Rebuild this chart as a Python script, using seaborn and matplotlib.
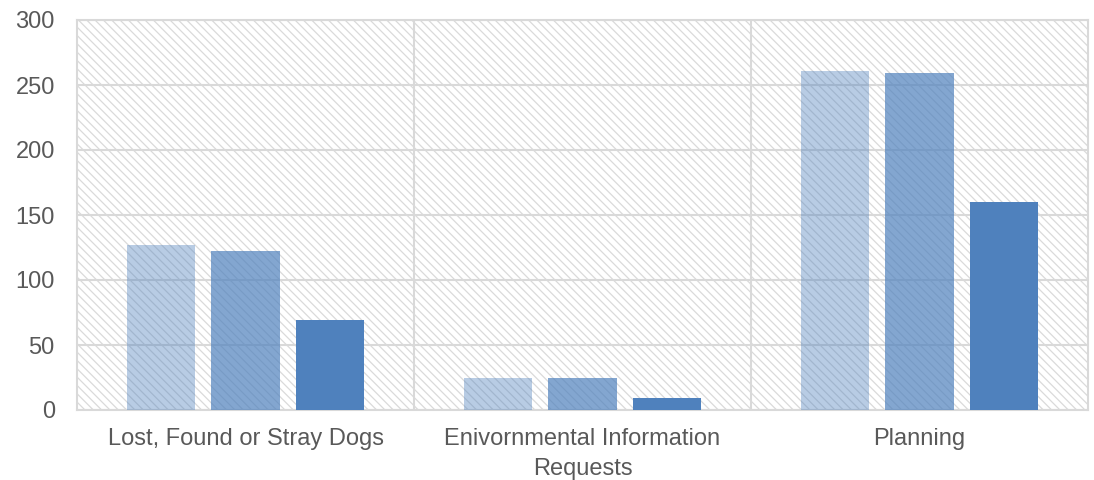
import matplotlib
matplotlib.use("Agg")
import matplotlib.pyplot as plt
import seaborn as sns
import pandas as pd
from matplotlib.patches import Rectangle

# Data
categories = ["Lost, Found or Stray Dogs", "Enivornmental Information\nRequests", "Planning"]
series_names = ["Period 1", "Period 2", "Period 3"]
period1 = [127, 25, 261]
period2 = [122, 25, 259]
period3 = [69, 9, 160]
y_ticks = [0, 50, 100, 150, 200, 250, 300]

df = pd.DataFrame({
    "category": categories * 3,
    "series": [series_names[0]] * 3 + [series_names[1]] * 3 + [series_names[2]] * 3,
    "value": period1 + period2 + period3,
})

sns.set_theme(style="white")
plt.rcParams["font.family"] = ["Liberation Sans", "DejaVu Sans"]
plt.rcParams["hatch.color"] = "#dadada"
plt.rcParams["hatch.linewidth"] = 0.9

fig = plt.figure(figsize=(10.94, 4.80), dpi=100)
ax = fig.add_axes([77 / 1094, 1 - 410 / 480, (1088 - 77) / 1094, (410 - 20) / 480])

# Hatched plot-area background
ax.add_patch(Rectangle((0, 0), 1, 1, transform=ax.transAxes, facecolor="white",
                       edgecolor="#dadada", hatch="\\\\\\\\", linewidth=0, zorder=0))

base = "#4f81bd"
sns.barplot(data=df, x="category", y="value", hue="series",
            palette=[base, base, base], saturation=1, width=0.75, gap=0.19,
            legend=False, ax=ax, zorder=3, linewidth=0)

for container, alpha in zip(ax.containers, [0.40, 0.70, 1.0]):
    for patch in container:
        patch.set_alpha(alpha)

ax.set_ylim(0, 300)
ax.set_xlim(-0.5, 2.5)
ax.set_yticks(y_ticks)
ax.set_yticklabels([str(t) for t in y_ticks])

grid_color = "#d9d9d9"
for t in y_ticks:
    ax.axhline(t, color=grid_color, linewidth=1.5, zorder=1)
for xv in [0.5, 1.5]:
    ax.axvline(xv, color=grid_color, linewidth=1.5, zorder=1)

for side in ["left", "right", "top", "bottom"]:
    ax.spines[side].set_color(grid_color)
    ax.spines[side].set_linewidth(1.5)

ax.set_xlabel("")
ax.set_ylabel("")
ax.tick_params(axis="both", length=0, labelsize=17, colors="#595959")
ax.tick_params(axis="x", pad=13)
ax.tick_params(axis="y", pad=16)
for lbl in ax.get_xticklabels():
    lbl.set_linespacing(1.45)

fig.savefig("out.png", dpi=100)
